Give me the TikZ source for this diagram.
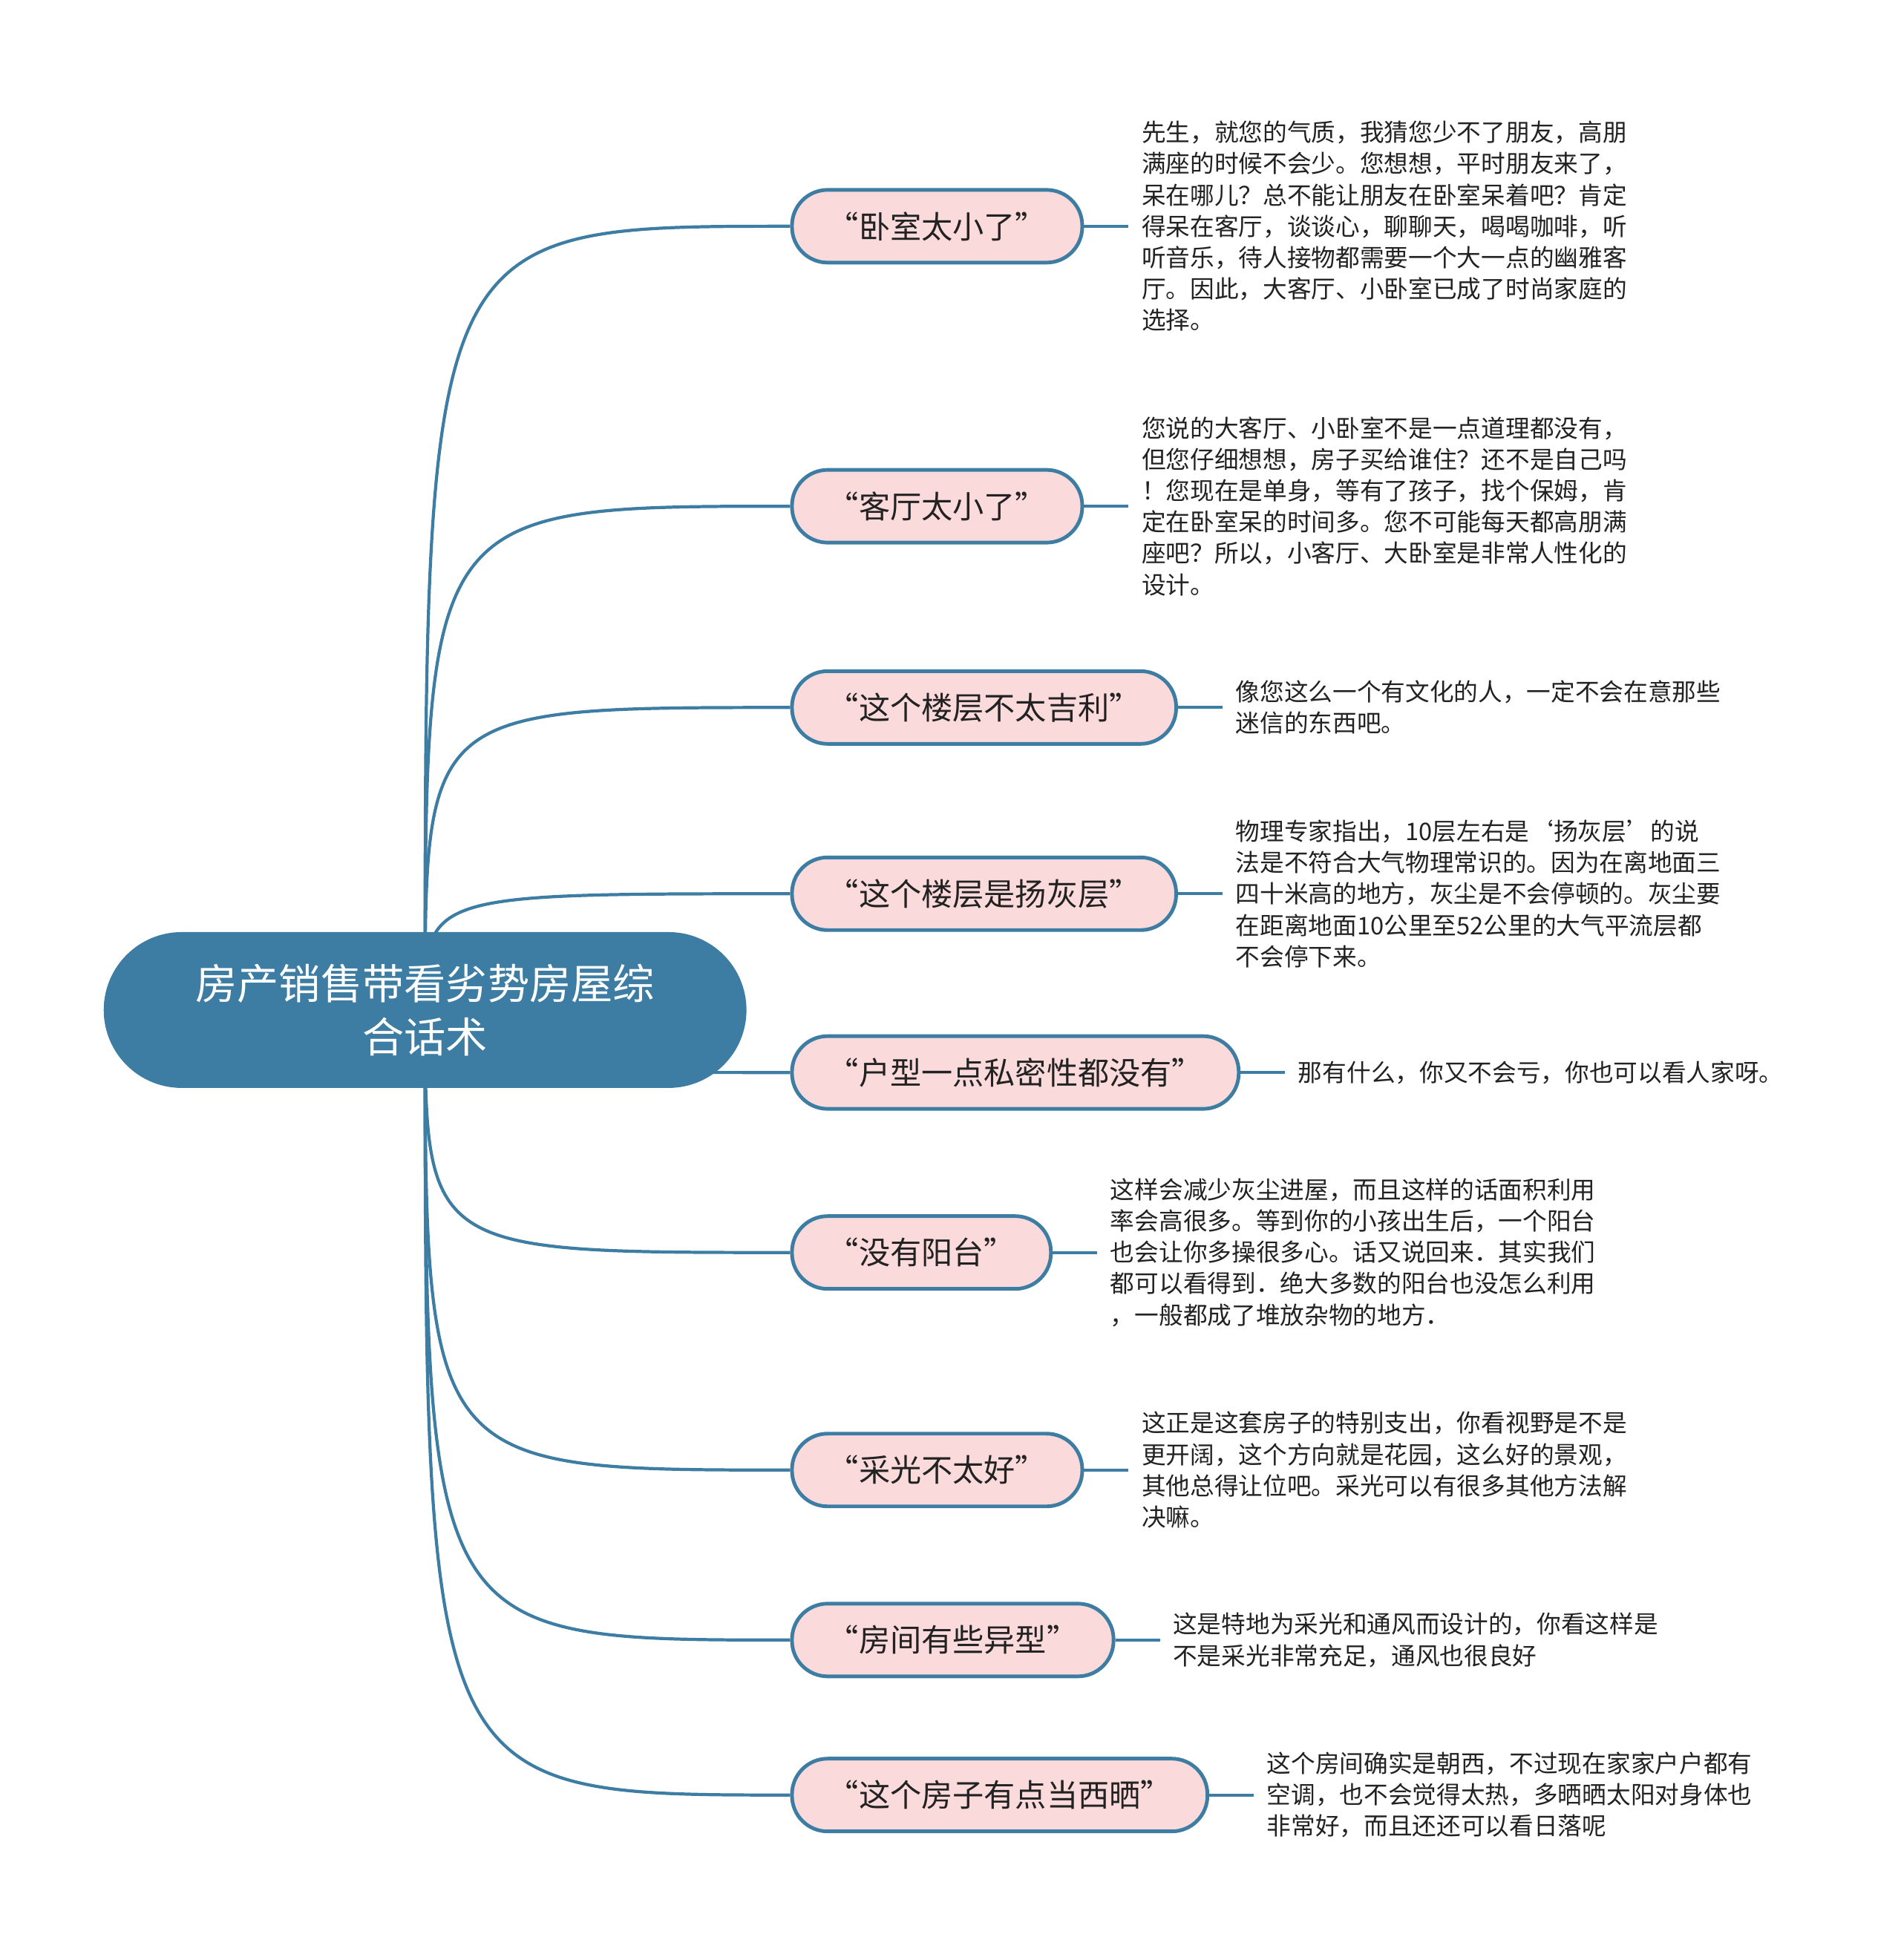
\documentclass[tikz,border=0pt]{standalone}
\usepackage{fontspec}
\setmainfont{Noto Sans CJK SC}
\newfontfamily\halffont{Noto Sans CJK SC}[RawFeature=+halt]
\usetikzlibrary{positioning,backgrounds}
\definecolor{MapBlue}{HTML}{3E7DA3}
\definecolor{MapPink}{HTML}{FADADB}
\definecolor{MapText}{HTML}{222222}

\begin{document}
\begin{tikzpicture}[
    x=0.01684cm, y=-0.01684cm,
    topic/.style={
      fill=MapBlue,
      text=white,
      minimum width=8.66cm,
      minimum height=2.1cm,
      rounded corners=1.05cm,
      align=center,
      font=\fontsize{16}{20.6}\selectfont
    },
    objection/.style={
      draw=MapBlue,
      line width=1.4pt,
      fill=MapPink,
      minimum height=0.98cm,
      rounded corners=0.48cm,
      inner xsep=0.69cm,
      anchor=west,
      text=MapText,
      font=\halffont\fontsize{12}{14}\selectfont
    },
    answer/.style={
      align=left,
      inner xsep=0.17cm,
      text=MapText,
      font=\fontsize{9.3}{12}\selectfont
    },
    link/.style={
      draw=MapBlue,
      line width=1.2pt
    }
  ]
  \useasboundingbox (0,0) rectangle (1520,1568);

  % Central topic
  \node[topic] (root) at (340,808) {房产销售带看劣势房屋综\\合话术};

  % Objections
  \node[objection] (o1) at (632,181) {“卧室太小了”};
  \node[objection] (o2) at (632,405) {“客厅太小了”};
  \node[objection] (o3) at (632,566) {“这个楼层不太吉利”};
  \node[objection] (o4) at (632,715) {“这个楼层是扬灰层”};
  \node[objection] (o5) at (632,858) {“户型一点私密性都没有”};
  \node[objection] (o6) at (632,1002) {“没有阳台”};
  \node[objection] (o7) at (632,1176) {“采光不太好”};
  \node[objection] (o8) at (632,1312) {“房间有些异型”};
  \node[objection] (o9) at (632,1436) {“这个房子有点当西晒”};

  % Answers
  \node[answer, right=0.6cm of o1] (a1) {先生，就您的气质，我猜您少不了朋友，高朋\\满座的时候不会少。您想想，平时朋友来了，\\呆在哪儿？总不能让朋友在卧室呆着吧？肯定\\得呆在客厅，谈谈心，聊聊天，喝喝咖啡，听\\听音乐，待人接物都需要一个大一点的幽雅客\\厅。因此，大客厅、小卧室已成了时尚家庭的\\选择。};
  \node[answer, right=0.6cm of o2] (a2) {您说的大客厅、小卧室不是一点道理都没有，\\但您仔细想想，房子买给谁住？还不是自己吗\\！您现在是单身，等有了孩子，找个保姆，肯\\定在卧室呆的时间多。您不可能每天都高朋满\\座吧？所以，小客厅、大卧室是非常人性化的\\设计。};
  \node[answer, right=0.6cm of o3] (a3) {像您这么一个有文化的人，一定不会在意那些\\迷信的东西吧。};
  \node[answer, right=0.6cm of o4] (a4) {物理专家指出，10层左右是‘扬灰层’的说\\法是不符合大气物理常识的。因为在离地面三\\四十米高的地方，灰尘是不会停顿的。灰尘要\\在距离地面10公里至52公里的大气平流层都\\不会停下来。};
  \node[answer, right=0.6cm of o5] (a5) {那有什么，你又不会亏，你也可以看人家呀。};
  \node[answer, right=0.6cm of o6] (a6) {这样会减少灰尘进屋，而且这样的话面积利用\\率会高很多。等到你的小孩出生后，一个阳台\\也会让你多操很多心。话又说回来．其实我们\\都可以看得到．绝大多数的阳台也没怎么利用\\，一般都成了堆放杂物的地方．};
  \node[answer, right=0.6cm of o7] (a7) {这正是这套房子的特别支出，你看视野是不是\\更开阔，这个方向就是花园，这么好的景观，\\其他总得让位吧。采光可以有很多其他方法解\\决嘛。};
  \node[answer, right=0.6cm of o8] (a8) {这是特地为采光和通风而设计的，你看这样是\\不是采光非常充足，通风也很良好};
  \node[answer, right=0.6cm of o9] (a9) {这个房间确实是朝西，不过现在家家户户都有\\空调，也不会觉得太热，多晒晒太阳对身体也\\非常好，而且还还可以看日落呢};

  % Branches (behind the central topic)
  \begin{scope}[on background layer]
    \draw[link] (root.center) .. controls (root.center |- o1.west) .. (o1.west);
    \draw[link] (root.center) .. controls (root.center |- o2.west) .. (o2.west);
    \draw[link] (root.center) .. controls (root.center |- o3.west) .. (o3.west);
    \draw[link] (root.center) .. controls (root.center |- o4.west) .. (o4.west);
    \draw[link] (root.center) .. controls (root.center |- o5.west) .. (o5.west);
    \draw[link] (root.center) .. controls (root.center |- o6.west) .. (o6.west);
    \draw[link] (root.center) .. controls (root.center |- o7.west) .. (o7.west);
    \draw[link] (root.center) .. controls (root.center |- o8.west) .. (o8.west);
    \draw[link] (root.center) .. controls (root.center |- o9.west) .. (o9.west);
  \end{scope}

  % Answer ties
  \draw[link] (o1) -- (a1);
  \draw[link] (o2) -- (a2);
  \draw[link] (o3) -- (a3);
  \draw[link] (o4) -- (a4);
  \draw[link] (o5) -- (a5);
  \draw[link] (o6) -- (a6);
  \draw[link] (o7) -- (a7);
  \draw[link] (o8) -- (a8);
  \draw[link] (o9) -- (a9);

\end{tikzpicture}
\end{document}
